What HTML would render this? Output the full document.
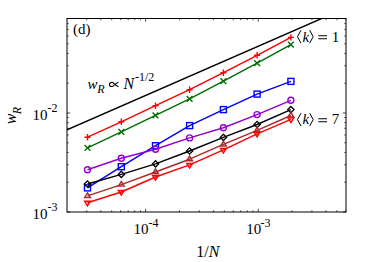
<!DOCTYPE html>
<html><head><meta charset="utf-8"><title>chart</title>
<style>html,body{margin:0;padding:0;background:#fff}body{width:374px;height:262px;overflow:hidden;font-family:"Liberation Serif",serif}svg{display:block;position:absolute;left:0;top:0}</style>
</head><body>
<svg width="374" height="262" viewBox="0 0 374 262">
<rect x="0" y="0" width="374" height="262" fill="#fff"/>
<clipPath id="c"><rect x="67.0" y="18.5" width="279.0" height="193.5"/></clipPath>
<path d="M86.72 212.0v-1.7M86.72 18.5v1.7M100.79 212.0v-1.7M100.79 18.5v1.7M111.70 212.0v-1.7M111.70 18.5v1.7M120.62 212.0v-1.7M120.62 18.5v1.7M128.16 212.0v-1.7M128.16 18.5v1.7M134.69 212.0v-1.7M134.69 18.5v1.7M140.45 212.0v-1.7M140.45 18.5v1.7M145.60 212.0v-3.2M145.60 18.5v3.2M179.50 212.0v-1.7M179.50 18.5v1.7M199.32 212.0v-1.7M199.32 18.5v1.7M213.39 212.0v-1.7M213.39 18.5v1.7M224.30 212.0v-1.7M224.30 18.5v1.7M233.22 212.0v-1.7M233.22 18.5v1.7M240.76 212.0v-1.7M240.76 18.5v1.7M247.29 212.0v-1.7M247.29 18.5v1.7M253.05 212.0v-1.7M253.05 18.5v1.7M258.20 212.0v-3.2M258.20 18.5v3.2M67.0 212.00h3.2M346.0 212.00h-3.2M292.10 212.0v-1.7M292.10 18.5v1.7M67.0 182.20h1.7M346.0 182.20h-1.7M311.92 212.0v-1.7M311.92 18.5v1.7M67.0 164.76h1.7M346.0 164.76h-1.7M325.99 212.0v-1.7M325.99 18.5v1.7M67.0 152.40h1.7M346.0 152.40h-1.7M336.90 212.0v-1.7M336.90 18.5v1.7M67.0 142.80h1.7M346.0 142.80h-1.7M345.82 212.0v-1.7M345.82 18.5v1.7M67.0 134.96h1.7M346.0 134.96h-1.7M67.0 128.34h1.7M346.0 128.34h-1.7M67.0 122.59h1.7M346.0 122.59h-1.7M67.0 117.53h1.7M346.0 117.53h-1.7M67.0 113.00h3.2M346.0 113.00h-3.2M67.0 83.20h1.7M346.0 83.20h-1.7M67.0 65.76h1.7M346.0 65.76h-1.7M67.0 53.40h1.7M346.0 53.40h-1.7M67.0 43.80h1.7M346.0 43.80h-1.7M67.0 35.96h1.7M346.0 35.96h-1.7M67.0 29.34h1.7M346.0 29.34h-1.7M67.0 23.59h1.7M346.0 23.59h-1.7M67.0 18.53h1.7M346.0 18.53h-1.7" stroke="#000" stroke-width="0.7" fill="none"/>
<path clip-path="url(#c)" d="M67.0 129.85L330 14.87" stroke="#000" stroke-width="1.45" fill="none"/>
<polyline points="87.50,137.20 121.30,121.80 155.50,105.70 189.60,89.70 223.40,72.70 257.10,55.30 290.90,37.40" stroke="#ff0000" stroke-width="1.45" fill="none" stroke-linejoin="round"/>
<path d="M84.50 137.20H90.50M87.50 134.00V140.40" stroke="#ff0000" stroke-width="1.4" fill="none"/>
<path d="M118.30 121.80H124.30M121.30 118.60V125.00" stroke="#ff0000" stroke-width="1.4" fill="none"/>
<path d="M152.50 105.70H158.50M155.50 102.50V108.90" stroke="#ff0000" stroke-width="1.4" fill="none"/>
<path d="M186.60 89.70H192.60M189.60 86.50V92.90" stroke="#ff0000" stroke-width="1.4" fill="none"/>
<path d="M220.40 72.70H226.40M223.40 69.50V75.90" stroke="#ff0000" stroke-width="1.4" fill="none"/>
<path d="M254.10 55.30H260.10M257.10 52.10V58.50" stroke="#ff0000" stroke-width="1.4" fill="none"/>
<path d="M287.90 37.40H293.90M290.90 34.20V40.60" stroke="#ff0000" stroke-width="1.4" fill="none"/>
<polyline points="87.50,147.90 121.30,131.80 155.50,115.40 189.60,98.90 223.40,81.20 257.10,63.10 290.90,44.70" stroke="#006e00" stroke-width="1.45" fill="none" stroke-linejoin="round"/>
<path d="M84.60 145.00L90.40 150.80M84.60 150.80L90.40 145.00" stroke="#006e00" stroke-width="1.4" fill="none"/>
<path d="M118.40 128.90L124.20 134.70M118.40 134.70L124.20 128.90" stroke="#006e00" stroke-width="1.4" fill="none"/>
<path d="M152.60 112.50L158.40 118.30M152.60 118.30L158.40 112.50" stroke="#006e00" stroke-width="1.4" fill="none"/>
<path d="M186.70 96.00L192.50 101.80M186.70 101.80L192.50 96.00" stroke="#006e00" stroke-width="1.4" fill="none"/>
<path d="M220.50 78.30L226.30 84.10M220.50 84.10L226.30 78.30" stroke="#006e00" stroke-width="1.4" fill="none"/>
<path d="M254.20 60.20L260.00 66.00M254.20 66.00L260.00 60.20" stroke="#006e00" stroke-width="1.4" fill="none"/>
<path d="M288.00 41.80L293.80 47.60M288.00 47.60L293.80 41.80" stroke="#006e00" stroke-width="1.4" fill="none"/>
<polyline points="87.50,187.90 121.30,166.70 155.50,145.70 189.60,125.60 223.40,109.60 257.10,94.10 290.90,81.40" stroke="#0000ff" stroke-width="1.45" fill="none" stroke-linejoin="round"/>
<rect x="84.50" y="184.90" width="6.0" height="6.0" stroke="#0000ff" stroke-width="1.4" fill="none"/>
<rect x="118.30" y="163.70" width="6.0" height="6.0" stroke="#0000ff" stroke-width="1.4" fill="none"/>
<rect x="152.50" y="142.70" width="6.0" height="6.0" stroke="#0000ff" stroke-width="1.4" fill="none"/>
<rect x="186.60" y="122.60" width="6.0" height="6.0" stroke="#0000ff" stroke-width="1.4" fill="none"/>
<rect x="220.40" y="106.60" width="6.0" height="6.0" stroke="#0000ff" stroke-width="1.4" fill="none"/>
<rect x="254.10" y="91.10" width="6.0" height="6.0" stroke="#0000ff" stroke-width="1.4" fill="none"/>
<rect x="287.90" y="78.40" width="6.0" height="6.0" stroke="#0000ff" stroke-width="1.4" fill="none"/>
<polyline points="87.50,169.80 121.30,158.20 155.50,149.30 189.60,137.90 223.40,127.70 257.10,114.60 290.90,100.30" stroke="#9400d3" stroke-width="1.45" fill="none" stroke-linejoin="round"/>
<circle cx="87.50" cy="169.80" r="3.0" stroke="#9400d3" stroke-width="1.4" fill="none"/>
<circle cx="121.30" cy="158.20" r="3.0" stroke="#9400d3" stroke-width="1.4" fill="none"/>
<circle cx="155.50" cy="149.30" r="3.0" stroke="#9400d3" stroke-width="1.4" fill="none"/>
<circle cx="189.60" cy="137.90" r="3.0" stroke="#9400d3" stroke-width="1.4" fill="none"/>
<circle cx="223.40" cy="127.70" r="3.0" stroke="#9400d3" stroke-width="1.4" fill="none"/>
<circle cx="257.10" cy="114.60" r="3.0" stroke="#9400d3" stroke-width="1.4" fill="none"/>
<circle cx="290.90" cy="100.30" r="3.0" stroke="#9400d3" stroke-width="1.4" fill="none"/>
<polyline points="87.50,184.00 121.30,174.40 155.50,163.90 189.60,151.00 223.40,137.40 257.10,124.50 290.90,109.60" stroke="#000000" stroke-width="1.45" fill="none" stroke-linejoin="round"/>
<path d="M87.50 180.85L90.65 184.00L87.50 187.15L84.35 184.00Z" stroke="#000000" stroke-width="1.2999999999999998" fill="none"/>
<path d="M121.30 171.25L124.45 174.40L121.30 177.55L118.15 174.40Z" stroke="#000000" stroke-width="1.2999999999999998" fill="none"/>
<path d="M155.50 160.75L158.65 163.90L155.50 167.05L152.35 163.90Z" stroke="#000000" stroke-width="1.2999999999999998" fill="none"/>
<path d="M189.60 147.85L192.75 151.00L189.60 154.15L186.45 151.00Z" stroke="#000000" stroke-width="1.2999999999999998" fill="none"/>
<path d="M223.40 134.25L226.55 137.40L223.40 140.55L220.25 137.40Z" stroke="#000000" stroke-width="1.2999999999999998" fill="none"/>
<path d="M257.10 121.35L260.25 124.50L257.10 127.65L253.95 124.50Z" stroke="#000000" stroke-width="1.2999999999999998" fill="none"/>
<path d="M290.90 106.45L294.05 109.60L290.90 112.75L287.75 109.60Z" stroke="#000000" stroke-width="1.2999999999999998" fill="none"/>
<polyline points="87.50,195.90 121.30,184.60 155.50,172.00 189.60,159.20 223.40,144.40 257.10,130.40 290.90,115.50" stroke="#a52a2a" stroke-width="1.45" fill="none" stroke-linejoin="round"/>
<path d="M87.50 192.77L90.40 197.47L84.60 197.47Z" stroke="#a52a2a" stroke-width="1.4" fill="none"/>
<path d="M121.30 181.47L124.20 186.17L118.40 186.17Z" stroke="#a52a2a" stroke-width="1.4" fill="none"/>
<path d="M155.50 168.87L158.40 173.57L152.60 173.57Z" stroke="#a52a2a" stroke-width="1.4" fill="none"/>
<path d="M189.60 156.07L192.50 160.77L186.70 160.77Z" stroke="#a52a2a" stroke-width="1.4" fill="none"/>
<path d="M223.40 141.27L226.30 145.97L220.50 145.97Z" stroke="#a52a2a" stroke-width="1.4" fill="none"/>
<path d="M257.10 127.27L260.00 131.97L254.20 131.97Z" stroke="#a52a2a" stroke-width="1.4" fill="none"/>
<path d="M290.90 112.37L293.80 117.07L288.00 117.07Z" stroke="#a52a2a" stroke-width="1.4" fill="none"/>
<polyline points="87.50,202.80 121.30,192.00 155.50,177.00 189.60,164.90 223.40,149.90 257.10,133.80 290.90,119.40" stroke="#ff0000" stroke-width="1.45" fill="none" stroke-linejoin="round"/>
<path d="M87.50 205.93L90.40 201.23L84.60 201.23Z" stroke="#ff0000" stroke-width="1.4" fill="none"/>
<path d="M121.30 195.13L124.20 190.43L118.40 190.43Z" stroke="#ff0000" stroke-width="1.4" fill="none"/>
<path d="M155.50 180.13L158.40 175.43L152.60 175.43Z" stroke="#ff0000" stroke-width="1.4" fill="none"/>
<path d="M189.60 168.03L192.50 163.33L186.70 163.33Z" stroke="#ff0000" stroke-width="1.4" fill="none"/>
<path d="M223.40 153.03L226.30 148.33L220.50 148.33Z" stroke="#ff0000" stroke-width="1.4" fill="none"/>
<path d="M257.10 136.93L260.00 132.23L254.20 132.23Z" stroke="#ff0000" stroke-width="1.4" fill="none"/>
<path d="M290.90 122.53L293.80 117.83L288.00 117.83Z" stroke="#ff0000" stroke-width="1.4" fill="none"/>
<rect x="67.0" y="18.5" width="279.0" height="193.5" fill="none" stroke="#000" stroke-width="1.0"/>
<path d="M301.0 30.200000000000003L297.45 36.7L301.0 43.2M309.65 30.200000000000003L313.2 36.7L309.65 43.2" stroke="#000" stroke-width="1.0" fill="none" stroke-linejoin="miter"/><path d="M318.3 35.8h8.7M318.3 38.8h8.7" stroke="#000" stroke-width="1.05" fill="none"/>
<path d="M301.0 113.10000000000001L297.45 119.60000000000001L301.0 126.10000000000001M309.65 113.10000000000001L313.2 119.60000000000001L309.65 126.10000000000001" stroke="#000" stroke-width="1.0" fill="none" stroke-linejoin="miter"/><path d="M318.3 118.7h8.7M318.3 121.7h8.7" stroke="#000" stroke-width="1.05" fill="none"/>
<g font-family="'Liberation Serif', serif" fill="#000">
<text x="32.5" y="218.8" font-size="15">10</text>
<text x="47.5" y="210.6" font-size="12">-3</text>
<text x="32.5" y="119.7" font-size="15">10</text>
<text x="47.5" y="112.3" font-size="12">-2</text>
<text x="133.5" y="234.4" font-size="15">10</text>
<text x="148.5" y="226.5" font-size="12">-4</text>
<text x="246.2" y="234.3" font-size="15">10</text>
<text x="260.6" y="226.6" font-size="12">-3</text>
<text x="196.3" y="256.7" font-size="16">1/<tspan font-style="italic">N</tspan></text>
<text x="73" y="34.1" font-size="15">(d)</text>
<text x="87.5" y="88.8" font-size="15" font-style="italic">w</text>
<text x="97.2" y="93" font-size="12" font-style="italic">R</text>
<text x="123.4" y="88.8" font-size="16" font-style="italic">N</text>
<text x="135" y="80.7" font-size="12">-1/2</text>
<text x="302.5" y="41.5" font-size="15" font-style="italic">k</text>
<text x="331.7" y="41.5" font-size="15">1</text>
<text x="302.5" y="124.4" font-size="15" font-style="italic">k</text>
<text x="331.7" y="124.4" font-size="15">7</text>
<g transform="translate(16.0,124.2) rotate(-90)">
<text x="0" y="0" font-size="16" font-style="italic">w</text>
<text x="9.9" y="4.9" font-size="12" font-style="italic">R</text>
</g>
</g>
<path d="M118.50 82.25Q116.97 82.88 114.68 84.45C113.50 85.16 113.59 86.55 112.04 86.55C110.40 86.55 109.40 85.75 109.40 84.45C109.40 83.15 110.40 82.35 112.04 82.35C113.59 82.35 113.50 83.74 114.68 84.45Q116.97 86.02 118.50 86.65" stroke="#000" stroke-width="1.05" fill="none"/>
</svg>
</body></html>
